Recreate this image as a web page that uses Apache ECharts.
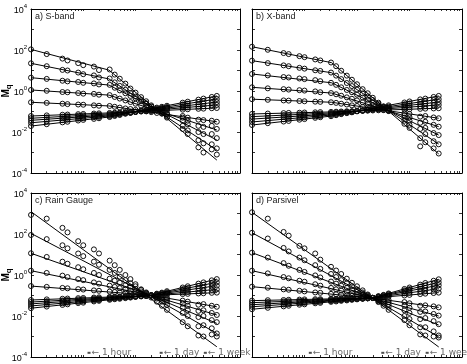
<!DOCTYPE html>
<html><head><meta charset="utf-8">
<script src="https://cdn.jsdelivr.net/npm/echarts@6/dist/echarts.min.js"></script>
<style>html,body{margin:0;padding:0;background:#fff}#c{width:467px;height:364px}</style>
</head><body><div id="c"></div>
<script>
// aggregation scales (x) of the plotted moments
const scales = [1,2,4,5,8,10,16,20,32,40,50,64,80,100,128,160,200,256,320,400,800,1000,1600,2000,2880,3600];

// log10(M_q); one row per moment order q (top to bottom at left edge)
const logMq_a = [
 [2.03,1.80,1.58,1.49,1.36,1.26,1.19,1.02,1.05,0.80,0.60,0.36,0.12,-0.08,-0.30,-0.50,-0.70,-0.92,-1.10,-1.30,-1.85,-2.10,-2.75,-3.00,-2.85,-3.10],
 [1.35,1.21,1.03,1.00,0.90,0.82,0.76,0.66,0.61,0.42,0.25,0.06,-0.10,-0.27,-0.44,-0.60,-0.76,-0.94,-1.08,-1.25,-1.70,-1.92,-2.40,-2.55,-2.60,-2.80],
 [0.65,0.59,0.50,0.47,0.44,0.40,0.37,0.32,0.30,0.16,0.03,-0.11,-0.24,-0.36,-0.50,-0.62,-0.76,-0.90,-1.00,-1.12,-1.45,-1.62,-2.00,-2.10,-2.10,-2.30],
 [0.05,0.01,-0.05,-0.06,-0.10,-0.13,-0.14,-0.18,-0.20,-0.29,-0.37,-0.46,-0.54,-0.62,-0.71,-0.78,-0.86,-0.95,-1.03,-1.10,-1.30,-1.45,-1.70,-1.75,-1.70,-1.85],
 [-0.55,-0.58,-0.62,-0.64,-0.66,-0.67,-0.70,-0.72,-0.73,-0.77,-0.81,-0.85,-0.88,-0.92,-0.96,-0.99,-1.03,-1.07,-1.10,-1.14,-1.22,-1.30,-1.40,-1.42,-1.45,-1.50],
 [-1.22,-1.19,-1.16,-1.15,-1.13,-1.12,-1.10,-1.09,-1.07,-1.06,-1.05,-1.03,-1.02,-1.01,-1.00,-0.99,-0.98,-0.96,-0.95,-0.94,-0.91,-0.89,-0.87,-0.86,-0.84,-0.83],
 [-1.33,-1.29,-1.25,-1.23,-1.20,-1.19,-1.16,-1.15,-1.12,-1.10,-1.08,-1.05,-1.03,-1.01,-0.99,-0.97,-0.95,-0.92,-0.91,-0.88,-0.82,-0.80,-0.76,-0.74,-0.70,-0.68],
 [-1.43,-1.38,-1.33,-1.31,-1.27,-1.26,-1.22,-1.20,-1.17,-1.14,-1.11,-1.07,-1.05,-1.02,-0.98,-0.95,-0.92,-0.89,-0.86,-0.83,-0.74,-0.71,-0.65,-0.62,-0.57,-0.54],
 [-1.55,-1.48,-1.42,-1.39,-1.35,-1.33,-1.28,-1.26,-1.22,-1.18,-1.14,-1.09,-1.06,-1.02,-0.97,-0.94,-0.90,-0.85,-0.82,-0.78,-0.66,-0.62,-0.54,-0.50,-0.43,-0.39],
 [-1.71,-1.62,-1.53,-1.50,-1.44,-1.41,-1.36,-1.33,-1.27,-1.22,-1.17,-1.11,-1.07,-1.02,-0.96,-0.92,-0.87,-0.81,-0.77,-0.72,-0.57,-0.52,-0.42,-0.37,-0.29,-0.24]
];
const logMq_b = [
 [2.16,2.01,1.85,1.80,1.70,1.65,1.54,1.49,1.39,1.21,0.99,0.75,0.55,0.33,0.09,-0.11,-0.33,-0.57,-0.76,-0.98,-1.60,-1.80,-2.70,-2.50,-2.80,-3.05],
 [1.48,1.36,1.25,1.21,1.13,1.09,1.01,0.98,0.90,0.75,0.58,0.39,0.24,0.07,-0.12,-0.27,-0.44,-0.63,-0.78,-0.96,-1.45,-1.65,-2.30,-2.10,-2.45,-2.60],
 [0.83,0.76,0.68,0.66,0.61,0.58,0.53,0.48,0.40,0.30,0.18,0.05,-0.06,-0.18,-0.32,-0.43,-0.56,-0.70,-0.80,-0.93,-1.30,-1.45,-1.85,-1.80,-2.05,-2.15],
 [0.18,0.13,0.09,0.07,0.04,0.02,-0.02,-0.06,-0.10,-0.16,-0.23,-0.31,-0.38,-0.46,-0.55,-0.62,-0.70,-0.79,-0.86,-0.95,-1.18,-1.28,-1.55,-1.50,-1.65,-1.74],
 [-0.40,-0.43,-0.46,-0.47,-0.49,-0.50,-0.52,-0.53,-0.55,-0.58,-0.62,-0.66,-0.70,-0.73,-0.78,-0.81,-0.85,-0.89,-0.93,-0.96,-1.08,-1.12,-1.25,-1.22,-1.29,-1.33],
 [-1.12,-1.10,-1.08,-1.07,-1.06,-1.05,-1.04,-1.03,-1.02,-1.01,-1.00,-0.99,-0.99,-0.98,-0.97,-0.96,-0.95,-0.94,-0.93,-0.92,-0.90,-0.89,-0.87,-0.86,-0.85,-0.84],
 [-1.25,-1.21,-1.18,-1.17,-1.14,-1.13,-1.11,-1.10,-1.07,-1.05,-1.04,-1.01,-1.00,-0.98,-0.96,-0.94,-0.92,-0.90,-0.88,-0.86,-0.81,-0.79,-0.75,-0.73,-0.70,-0.68],
 [-1.37,-1.32,-1.27,-1.26,-1.22,-1.21,-1.17,-1.16,-1.12,-1.10,-1.07,-1.04,-1.01,-0.98,-0.95,-0.93,-0.90,-0.87,-0.84,-0.81,-0.73,-0.70,-0.64,-0.61,-0.57,-0.54],
 [-1.51,-1.44,-1.38,-1.35,-1.31,-1.29,-1.24,-1.22,-1.17,-1.14,-1.10,-1.06,-1.03,-0.99,-0.95,-0.91,-0.88,-0.83,-0.80,-0.76,-0.65,-0.61,-0.54,-0.50,-0.44,-0.40],
 [-1.66,-1.57,-1.49,-1.46,-1.40,-1.37,-1.31,-1.28,-1.23,-1.18,-1.13,-1.08,-1.04,-0.99,-0.94,-0.89,-0.84,-0.79,-0.75,-0.70,-0.56,-0.51,-0.41,-0.37,-0.29,-0.24]
];
const logMq_c = [
 [2.93,2.75,2.30,2.08,1.65,1.45,1.25,1.05,0.70,0.48,0.25,0.00,-0.20,-0.45,-0.70,-0.90,-1.10,-1.30,-1.50,-1.70,-2.30,-2.50,-2.95,-3.00,-2.90,-3.00],
 [1.95,1.75,1.45,1.30,1.05,0.92,0.65,0.50,0.25,0.10,-0.08,-0.25,-0.40,-0.55,-0.72,-0.85,-1.00,-1.15,-1.30,-1.45,-1.85,-2.00,-2.50,-2.45,-2.60,-2.85],
 [1.06,0.88,0.65,0.55,0.38,0.28,0.10,0.00,-0.18,-0.28,-0.38,-0.50,-0.58,-0.68,-0.80,-0.88,-1.00,-1.10,-1.20,-1.30,-1.60,-1.72,-2.05,-2.00,-2.20,-2.30],
 [0.21,0.10,-0.03,-0.10,-0.20,-0.25,-0.36,-0.42,-0.52,-0.58,-0.64,-0.70,-0.76,-0.82,-0.88,-0.93,-1.00,-1.07,-1.13,-1.20,-1.40,-1.50,-1.75,-1.72,-1.85,-1.95],
 [-0.54,-0.58,-0.63,-0.65,-0.69,-0.71,-0.75,-0.77,-0.81,-0.83,-0.85,-0.88,-0.90,-0.92,-0.95,-0.97,-0.99,-1.03,-1.07,-1.12,-1.25,-1.30,-1.45,-1.42,-1.50,-1.55],
 [-1.22,-1.19,-1.16,-1.15,-1.13,-1.12,-1.10,-1.09,-1.07,-1.06,-1.06,-1.04,-1.04,-1.03,-1.02,-1.01,-1.00,-0.98,-0.97,-0.96,-0.93,-0.92,-0.90,-0.89,-0.87,-0.86],
 [-1.32,-1.28,-1.24,-1.22,-1.19,-1.18,-1.15,-1.14,-1.11,-1.09,-1.08,-1.06,-1.05,-1.04,-1.02,-1.01,-0.99,-0.97,-0.95,-0.92,-0.85,-0.83,-0.78,-0.76,-0.72,-0.70],
 [-1.41,-1.36,-1.30,-1.28,-1.25,-1.23,-1.19,-1.17,-1.14,-1.12,-1.10,-1.08,-1.07,-1.05,-1.03,-1.01,-0.99,-0.95,-0.91,-0.88,-0.77,-0.73,-0.65,-0.62,-0.56,-0.52],
 [-1.51,-1.44,-1.38,-1.35,-1.31,-1.29,-1.24,-1.22,-1.17,-1.15,-1.13,-1.10,-1.08,-1.06,-1.04,-1.02,-0.99,-0.93,-0.89,-0.84,-0.69,-0.64,-0.54,-0.49,-0.41,-0.36],
 [-1.62,-1.54,-1.46,-1.43,-1.37,-1.35,-1.29,-1.26,-1.21,-1.18,-1.16,-1.13,-1.10,-1.07,-1.04,-1.02,-0.98,-0.91,-0.86,-0.79,-0.61,-0.55,-0.42,-0.36,-0.26,-0.20]
];
const logMq_d = [
 [3.06,2.75,2.10,1.92,1.42,1.30,1.05,0.75,0.40,0.22,0.05,-0.18,-0.38,-0.55,-0.75,-0.95,-1.12,-1.32,-1.50,-1.70,-2.20,-2.45,-2.90,-2.95,-3.00,-3.05],
 [2.06,1.78,1.32,1.15,0.85,0.72,0.48,0.30,0.05,-0.10,-0.25,-0.40,-0.55,-0.70,-0.85,-0.98,-1.12,-1.28,-1.40,-1.55,-2.00,-2.15,-2.55,-2.55,-2.75,-2.95],
 [1.09,0.85,0.58,0.45,0.25,0.15,-0.02,-0.12,-0.32,-0.42,-0.52,-0.63,-0.72,-0.82,-0.93,-1.02,-1.12,-1.23,-1.32,-1.42,-1.72,-1.85,-2.15,-2.10,-2.25,-2.40],
 [0.21,0.08,-0.10,-0.16,-0.28,-0.33,-0.45,-0.52,-0.63,-0.70,-0.76,-0.82,-0.88,-0.94,-1.00,-1.06,-1.12,-1.19,-1.26,-1.32,-1.50,-1.60,-1.80,-1.78,-1.90,-1.98],
 [-0.57,-0.62,-0.70,-0.72,-0.77,-0.80,-0.85,-0.87,-0.92,-0.94,-0.97,-1.00,-1.02,-1.05,-1.08,-1.10,-1.12,-1.15,-1.19,-1.22,-1.32,-1.38,-1.50,-1.48,-1.53,-1.58],
 [-1.25,-1.23,-1.22,-1.21,-1.20,-1.19,-1.18,-1.18,-1.16,-1.16,-1.15,-1.15,-1.14,-1.14,-1.13,-1.12,-1.12,-1.10,-1.08,-1.06,-1.00,-0.97,-0.93,-0.91,-0.88,-0.86],
 [-1.35,-1.32,-1.29,-1.28,-1.26,-1.25,-1.23,-1.22,-1.20,-1.19,-1.18,-1.17,-1.16,-1.15,-1.14,-1.13,-1.12,-1.08,-1.05,-1.01,-0.90,-0.87,-0.80,-0.76,-0.70,-0.67],
 [-1.45,-1.41,-1.36,-1.35,-1.32,-1.31,-1.28,-1.26,-1.23,-1.22,-1.21,-1.19,-1.18,-1.16,-1.15,-1.13,-1.12,-1.06,-1.02,-0.97,-0.82,-0.77,-0.67,-0.63,-0.55,-0.50],
 [-1.55,-1.49,-1.44,-1.42,-1.38,-1.36,-1.32,-1.31,-1.27,-1.25,-1.23,-1.21,-1.19,-1.17,-1.15,-1.14,-1.11,-1.05,-0.99,-0.93,-0.75,-0.69,-0.57,-0.51,-0.42,-0.36],
 [-1.67,-1.60,-1.53,-1.50,-1.45,-1.43,-1.38,-1.36,-1.31,-1.29,-1.26,-1.24,-1.21,-1.19,-1.16,-1.14,-1.11,-1.03,-0.97,-0.90,-0.68,-0.61,-0.47,-0.39,-0.28,-0.21]
];

// fitted power-law lines: x at start / break / end, and log10(M_q) at those x
const fitX_a = [1, 31, 3600];
const fitLog_a = [[2.03,1.02,-3.37],[1.35,0.59,-2.88],[0.65,0.29,-2.39],[0.05,-0.20,-1.90],[-0.55,-0.73,-1.50],[-1.22,-1.07,-0.83],[-1.33,-1.12,-0.68],[-1.43,-1.17,-0.54],[-1.55,-1.22,-0.39],[-1.71,-1.27,-0.24]];
const fitX_b = [1, 33, 3600];
const fitLog_b = [[2.16,1.38,-3.07],[1.48,0.89,-2.59],[0.83,0.40,-2.15],[0.18,-0.10,-1.74],[-0.40,-0.55,-1.33],[-1.12,-1.02,-0.84],[-1.25,-1.07,-0.68],[-1.37,-1.12,-0.54],[-1.51,-1.17,-0.40],[-1.66,-1.22,-0.24]];
const fitX_c = [1, 186, 3600];
const fitLog_c = [[3.09,-1.12,-3.50],[2.03,-1.00,-2.85],[1.06,-0.98,-2.36],[0.21,-0.98,-1.95],[-0.54,-0.98,-1.55],[-1.22,-1.00,-0.86],[-1.32,-1.00,-0.70],[-1.41,-1.00,-0.52],[-1.51,-1.00,-0.36],[-1.62,-1.00,-0.20]];
const fitX_d = [1, 195, 3600];
const fitLog_d = [[3.06,-1.12,-3.51],[2.06,-1.12,-3.02],[1.09,-1.12,-2.44],[0.21,-1.12,-2.00],[-0.57,-1.12,-1.58],[-1.25,-1.12,-0.86],[-1.35,-1.12,-0.67],[-1.45,-1.12,-0.50],[-1.55,-1.12,-0.36],[-1.67,-1.12,-0.21]];

const panelTitles = ['a) S-band', 'b) X-band', 'c) Rain Gauge', 'd) Parsivel'];
const yLabelValues = [1e-4, 1e-2, 1, 1e2, 1e4];
const yTickValues = [1e-4,1e-3,1e-2,1e-1,1,1e1,1e2,1e3,1e4];
const timeMarkX = [12.9, 310, 2170];
const timeMarkText = ['1 hour', '1 day', '1 week'];
const timeMarkY = 1.6e-4;

const xTickValues = [];
[1,10,100,1000].forEach(d => { for (let k = 1; k < 10; k++) xTickValues.push(d * k); });
xTickValues.push(10000);

const panels = [
  {logMq: logMq_a, fitX: fitX_a, fitLog: fitLog_a},
  {logMq: logMq_b, fitX: fitX_b, fitLog: fitLog_b},
  {logMq: logMq_c, fitX: fitX_c, fitLog: fitLog_c},
  {logMq: logMq_d, fitX: fitX_d, fitLog: fitLog_d}
];
const gridBoxes = [
  {left: 31, top: 9, width: 209, height: 164},
  {left: 252, top: 9, width: 210, height: 164},
  {left: 31, top: 193, width: 209, height: 164},
  {left: 252, top: 193, width: 210, height: 164}
];

const grid = [], xAxis = [], yAxis = [], series = [], graphic = [];
const black = '#000';
gridBoxes.forEach((g, i) => {
  grid.push(Object.assign({show: false, containLabel: false}, g));
  ['bottom', 'top'].forEach(pos => xAxis.push({
    type: 'log', logBase: 10, min: 1, max: 10000, gridIndex: i, position: pos,
    axisLine: {show: true, lineStyle: {color: black, width: 1}},
    axisTick: {show: true, inside: true, length: 2, customValues: xTickValues, lineStyle: {color: black, width: 0.8}},
    axisLabel: {show: false}, splitLine: {show: false}, minorTick: {show: false}
  }));
  ['left', 'right'].forEach(pos => yAxis.push({
    type: 'log', logBase: 10, min: 1e-4, max: 1e4, gridIndex: i, position: pos,
    axisLine: {show: true, lineStyle: {color: black, width: 1}},
    axisTick: {show: true, inside: true, length: 3, customValues: yTickValues, lineStyle: {color: black, width: 0.8}},
    axisLabel: {
      show: pos === 'left' && (i % 2 === 0), customValues: yLabelValues, margin: 4,
      formatter: v => '{b|10}{s|' + Math.round(Math.log10(v)) + '}',
      rich: {
        b: {fontSize: 9, color: black, fontFamily: 'Liberation Sans', lineHeight: 12, verticalAlign: 'bottom'},
        s: {fontSize: 6, color: black, fontFamily: 'Liberation Sans', verticalAlign: 'top'}
      }
    },
    splitLine: {show: false}
  }));
  const p = panels[i];
  const pts = [];
  p.logMq.forEach(row => row.forEach((lv, k) => pts.push([scales[k], Math.pow(10, lv)])));
  series.push({
    type: 'scatter', xAxisIndex: 2 * i, yAxisIndex: 2 * i, data: pts,
    symbol: 'circle', symbolSize: 5, silent: true, z: 2,
    itemStyle: {color: 'rgba(255,255,255,0)', borderColor: '#111', borderWidth: 1, opacity: 1}
  });
  p.fitLog.forEach(f => series.push({
    type: 'line', xAxisIndex: 2 * i, yAxisIndex: 2 * i, showSymbol: false, silent: true, z: 3,
    data: f.map((lv, k) => [p.fitX[k], Math.pow(10, lv)]),
    lineStyle: {color: black, width: 1}
  }));
  if (i >= 2) {
    series.push({
      type: 'scatter', xAxisIndex: 2 * i, yAxisIndex: 2 * i, silent: true, z: 4,
      symbol: 'rect', symbolSize: [3, 2], itemStyle: {color: '#222'},
      data: timeMarkX.map((x, k) => ({value: [x, timeMarkY], label: {formatter: '\u2190 ' + timeMarkText[k]}})),
      label: {show: true, position: 'right', distance: 1, fontSize: 9, color: '#444', fontFamily: 'DejaVu Sans'}
    });
  }
  graphic.push({
    type: 'text', left: g.left + 4, top: g.top + 3, silent: true,
    style: {text: panelTitles[i], fontSize: 9, fill: '#222', fontFamily: 'Liberation Sans'}
  });
});
[91, 275].forEach(cy => graphic.push({
  type: 'text', x: 7, y: cy, rotation: Math.PI / 2, silent: true,
  style: {
    text: '{m|M}{q|q}', align: 'center', verticalAlign: 'middle',
    rich: {m: {fontSize: 10, fontWeight: 'bold', fill: black, fontFamily: 'Liberation Sans', lineHeight: 12, verticalAlign: 'top'},
           q: {fontSize: 8, fontWeight: 'bold', fill: black, fontFamily: 'Liberation Sans', verticalAlign: 'bottom'}}
  }
}));

const chart = echarts.init(document.getElementById('c'), null, {renderer: 'canvas'});
chart.setOption({animation: false, backgroundColor: '#fff', grid, xAxis, yAxis, series, graphic});
</script></body></html>
